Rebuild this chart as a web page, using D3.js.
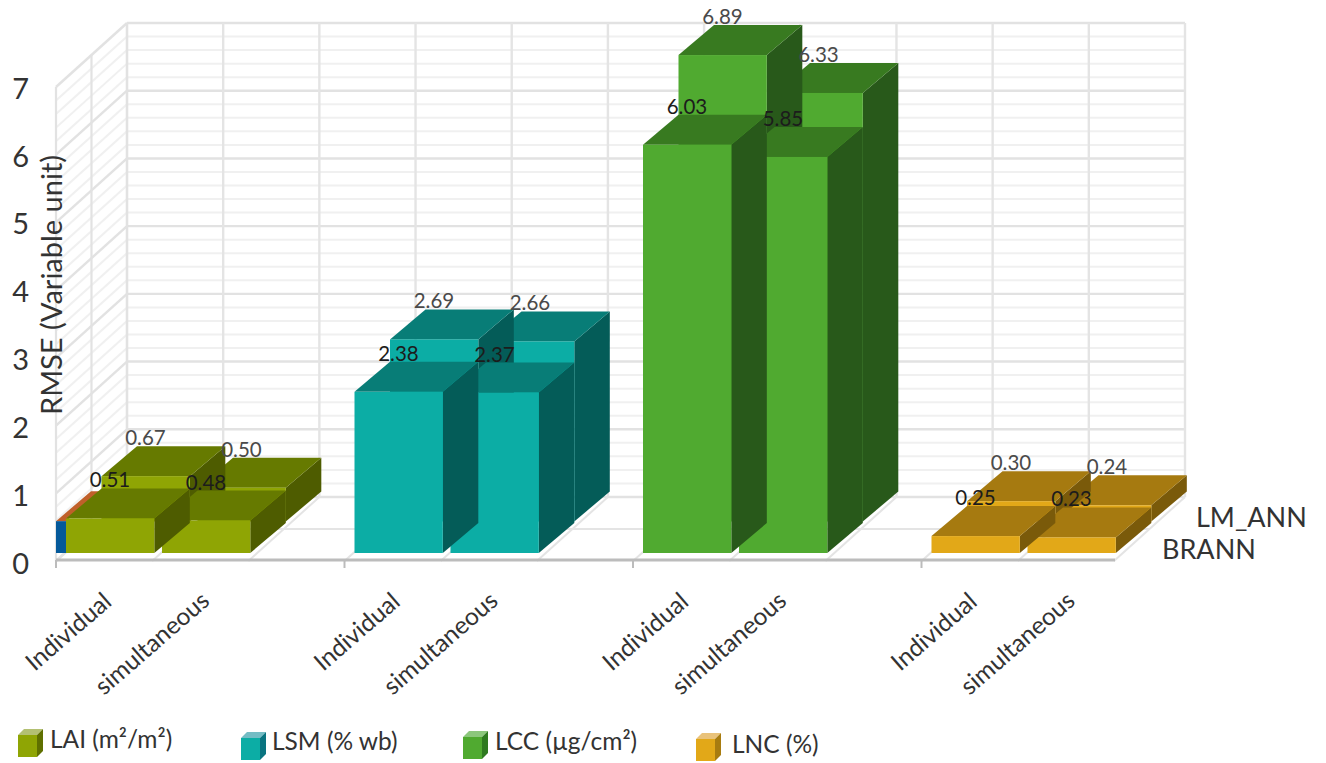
<!DOCTYPE html>
<html>
<head>
<meta charset="utf-8">
<script src="https://cdn.jsdelivr.net/npm/d3@7/dist/d3.min.js"></script>
<style>
  html, body { margin: 0; padding: 0; background: #fff; }
  svg { display: block; }
  text { font-family: Lato, "Open Sans", sans-serif; }
</style>
</head>
<body>
<svg id="chart" width="1326" height="763"></svg>
<script>
// RMSE per retrieved variable, for each inversion scheme and training algorithm
const variables = ["LAI (m²/m²)", "LSM (% wb)", "LCC (µg/cm²)", "LNC (%)"];
const schemes = ["Individual", "simultaneous"];
const algorithms = ["BRANN", "LM_ANN"];
const branValues = [[0.51, 0.48], [2.38, 2.37], [6.03, 5.85], [0.25, 0.23]];
const lmValues = [[0.67, 0.50], [2.69, 2.66], [6.89, 6.33], [0.30, 0.24]];
const valueTicks = [0, 1, 2, 3, 4, 5, 6, 7];

const frontColors = ["#8fa504", "#0cada5", "#50aa30", "#e2a818"];
const topColors = ["#667a00", "#087d77", "#387a20", "#a67a10"];
const sideColors = ["#4e5c00", "#045c58", "#28591a", "#7a5a0a"];
const legendTopColors = ["#b3c072", "#74bcc4", "#8cc77c", "#e9c27a"];
const legendSideColors = ["#5f7000", "#0a7480", "#2f7a20", "#a87c10"];

const svg = d3.select("#chart");

// Value scale on the front plane of the bars, and on the back wall
const yBar = d3.scaleLinear().domain([0, 7]).range([553, 553 - 7 * 67.7]);
const yWall = d3.scaleLinear().domain([0, 7]).range([497, 23]);
const yLabel = d3.scaleLinear().domain([0, 7]).range([564, 89]);

// Horizontal placement: variable groups, then the two schemes inside each
const xGroup = d3.scaleBand().domain(variables).range([56, 1210]);
const xScheme = d3.scaleBand().domain(schemes).range([10, 194.3]).paddingInner(0.08);

// Oblique projection used for depth
const rowShift = d3.scalePoint().domain(algorithms).range([0, 1]);
const rowDx = 35.5, rowDy = 31.5, barDx = 35.5, barDy = 30;

// Back wall, side wall and floor grid
const grid = svg.append("g").attr("fill", "none");
const wallLeft = 127, wallRight = 1185, floorLeft = 56, wallDx = 71, wallDy = 64;
const gridStep = (wallRight - wallLeft) / 11;
const minorValues = d3.range(0, 7.01, 0.2);

minorValues.forEach(v => {
  const major = Math.abs(v - Math.round(v)) < 1e-6;
  const stroke = major ? "#e2e2e2" : "#f0f0f0";
  const w = major ? 2.4 : 2;
  grid.append("line").attr("x1", wallLeft).attr("x2", wallRight)
    .attr("y1", yWall(v)).attr("y2", yWall(v)).attr("stroke", stroke).attr("stroke-width", w);
  grid.append("line").attr("x1", floorLeft).attr("x2", wallLeft)
    .attr("y1", yWall(v) + wallDy).attr("y2", yWall(v)).attr("stroke", stroke).attr("stroke-width", w);
});
d3.range(0, 12).forEach(k => {
  const x = wallLeft + k * gridStep;
  grid.append("line").attr("x1", x).attr("x2", x)
    .attr("y1", yWall(7)).attr("y2", yWall(0)).attr("stroke", "#e4e4e4").attr("stroke-width", 2.4);
  grid.append("line").attr("x1", x - wallDx).attr("x2", x)
    .attr("y1", 561).attr("y2", yWall(0)).attr("stroke", "#e4e4e4").attr("stroke-width", 2);
});
[floorLeft, floorLeft + wallDx / 2, wallLeft].forEach((x, i) => {
  grid.append("line").attr("x1", x).attr("x2", x)
    .attr("y1", yWall(7) + wallDy * (1 - i / 2)).attr("y2", yWall(0) + wallDy * (1 - i / 2))
    .attr("stroke", "#e2e2e2").attr("stroke-width", 2.2);
});
grid.append("line").attr("x1", floorLeft + wallDx / 2).attr("x2", wallRight - wallDx / 2)
  .attr("y1", 529).attr("y2", 529).attr("stroke", "#e4e4e4").attr("stroke-width", 2);

// Category axis line and its group ticks
const axis = svg.append("g");
axis.append("line").attr("x1", floorLeft).attr("x2", 1115).attr("y1", 560).attr("y2", 560)
  .attr("stroke", "#bcbcbc").attr("stroke-width", 3);
variables.forEach(v => {
  axis.append("line").attr("x1", xGroup(v)).attr("x2", xGroup(v)).attr("y1", 560).attr("y2", 568)
    .attr("stroke", "#bcbcbc").attr("stroke-width", 2);
});

// Thin sliver of the series hidden against the side wall
const sliver = svg.append("g");
sliver.append("polygon").attr("fill", "#c0602a").attr("points", [
  [56, yBar(0.47)], [66, yBar(0.47)], [101, yBar(0.47) - barDy], [91, yBar(0.47) - barDy]
].join(" "));
sliver.append("rect").attr("x", 56).attr("width", 10).attr("y", yBar(0.47))
  .attr("height", yBar(0) - yBar(0.47)).attr("fill", "#04599a");

// One flat-shaded box per value; back row first, right to left, so nearer boxes overlap
const bars = [];
algorithms.forEach((alg, r) => {
  const source = alg === "BRANN" ? branValues : lmValues;
  variables.forEach((variable, g) => {
    schemes.forEach((scheme, s) => {
      bars.push({ alg, r, g, s, value: source[g][s],
        x: xGroup(variable) + xScheme(scheme) + rowShift(alg) * rowDx,
        base: yBar(0) - rowShift(alg) * rowDy,
        top: yBar(source[g][s]) - rowShift(alg) * rowDy });
    });
  });
});
const drawOrder = bars.slice().sort((a, b) =>
  d3.descending(a.r, b.r) || d3.descending(a.x, b.x));
const w = xScheme.bandwidth();

const boxes = svg.append("g").selectAll("g").data(drawOrder).join("g");
boxes.append("polygon").attr("fill", d => sideColors[d.g]).attr("points", d => [
  [d.x + w, d.top], [d.x + w + barDx, d.top - barDy],
  [d.x + w + barDx, d.base - barDy], [d.x + w, d.base]
].join(" "));
boxes.append("polygon").attr("fill", d => topColors[d.g]).attr("points", d => [
  [d.x, d.top], [d.x + barDx, d.top - barDy],
  [d.x + w + barDx, d.top - barDy], [d.x + w, d.top]
].join(" "));
boxes.append("rect").attr("x", d => d.x).attr("y", d => d.top).attr("width", w)
  .attr("height", d => d.base - d.top).attr("fill", d => frontColors[d.g]);

// Value labels sit above the far edge of each box
svg.append("g").selectAll("text").data(bars).join("text")
  .attr("x", d => d.x + 44).attr("y", d => d.top - 39)
  .attr("text-anchor", "middle").attr("dominant-baseline", "central")
  .attr("font-size", 20.5).attr("fill", d => d.r === 1 ? "#4a4a4a" : "#1c1c1c")
  .text(d => d.value.toFixed(2));

// Value axis
const yAxis = d3.axisLeft(yLabel).tickValues(valueTicks).tickSize(0).tickPadding(0).tickFormat(d3.format("d"));
const yAxisG = svg.append("g").attr("transform", "translate(29,0)").call(yAxis);
yAxisG.select(".domain").remove();
yAxisG.selectAll("text").style("font-family", "Lato, sans-serif").attr("font-size", 29).attr("fill", "#333");

svg.append("text").attr("transform", "translate(62,285) rotate(-90)")
  .attr("text-anchor", "middle").attr("font-size", 29).attr("fill", "#333")
  .text("RMSE (Variable unit)");

// Slanted scheme labels under each group
const catLabels = [];
variables.forEach(v => schemes.forEach(s => catLabels.push({ v, s })));
svg.append("g").selectAll("text").data(catLabels).join("text")
  .attr("transform", d => {
    const ax = xGroup(d.v) + (d.s === schemes[0] ? 57 : 155);
    const ay = d.s === schemes[0] ? 604 : 603;
    return `translate(${ax},${ay}) rotate(-41)`;
  })
  .attr("text-anchor", "end").attr("font-size", 24.5).attr("fill", "#333")
  .text(d => d.s);

// Depth axis labels
const depthX = d3.scaleOrdinal().domain(algorithms).range([1162, 1196]);
const depthY = d3.scaleOrdinal().domain(algorithms).range([559, 527]);
svg.append("g").selectAll("text").data(algorithms).join("text")
  .attr("x", d => depthX(d)).attr("y", d => depthY(d))
  .attr("font-size", 27).attr("fill", "#333").text(d => d);

// Legend with small box swatches
const legendX = d3.scaleOrdinal().domain(variables).range([18, 241, 463, 696]);
const legendTextX = d3.scaleOrdinal().domain(variables).range([50, 272, 495, 732]);
const legendY = d3.scaleOrdinal().domain(variables).range([729, 732, 731, 733]);
const legendTextY = d3.scaleOrdinal().domain(variables).range([748, 750, 750, 753]);
const legend = svg.append("g").selectAll("g").data(variables).join("g");
legend.append("polygon").attr("fill", (d, i) => legendTopColors[i]).attr("points", d => {
  const x = legendX(d), y = legendY(d);
  return [[x, y + 6], [x + 6, y], [x + 25, y], [x + 19, y + 6]].join(" ");
});
legend.append("polygon").attr("fill", (d, i) => legendSideColors[i]).attr("points", d => {
  const x = legendX(d), y = legendY(d);
  return [[x + 19, y + 6], [x + 25, y], [x + 25, y + 22], [x + 19, y + 28]].join(" ");
});
legend.append("rect").attr("x", d => legendX(d)).attr("y", d => legendY(d) + 6)
  .attr("width", 19).attr("height", 22).attr("fill", (d, i) => frontColors[i]);
legend.append("text").attr("x", d => legendTextX(d)).attr("y", d => legendTextY(d))
  .attr("font-size", 24.5).attr("fill", "#333").text(d => d);
</script>
</body>
</html>
